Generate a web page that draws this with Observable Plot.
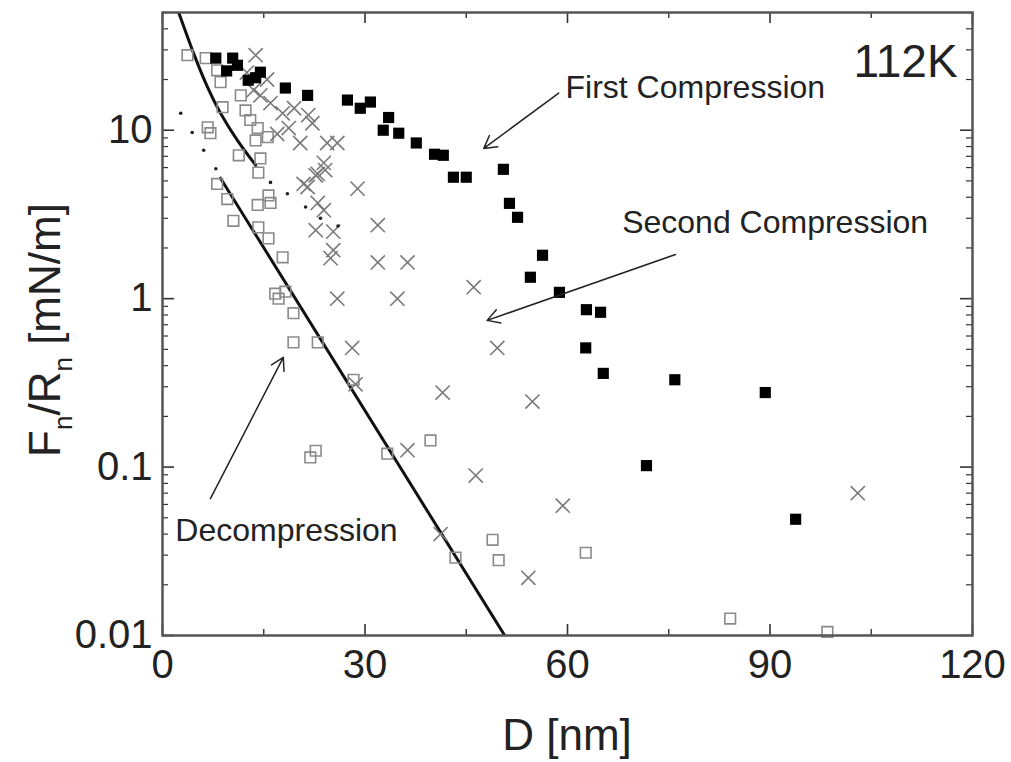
<!DOCTYPE html>
<html>
<head>
<meta charset="utf-8">
<script src="https://cdn.jsdelivr.net/npm/d3@7"></script>
<script src="https://cdn.jsdelivr.net/npm/@observablehq/plot@0.6"></script>
<style>
  html, body { margin: 0; padding: 0; background: #fff; }
</style>
</head>
<body>
<div id="chart"></div>
<script>
// First compression (filled squares)
const firstD = [7.9,10.4,11.1,14.5,12.7,9.5,13.8,18.2,21.5,27.4,29.3,30.8,33.5,32.7,35.0,37.6,40.3,41.6,43.1,45.0,50.5,51.4,52.6,56.3,54.5,58.8,62.8,64.9,62.7,65.3,75.9,89.3,71.7,93.8];
const firstF = [26.8,26.8,24.3,22.1,19.8,22.5,20.5,17.8,16.1,15.1,13.5,14.7,11.9,10,9.6,8.4,7.2,7.1,5.26,5.26,5.86,3.68,3.04,1.81,1.34,1.09,0.86,0.83,0.51,0.36,0.33,0.277,0.102,0.049];
// Second compression (crosses)
const secondD = [13.8,13.5,14.5,16,17.8,18.7,20.4,21.6,22.2,24.4,25.9,23.9,23.0,21.5,28.9,20.9,22.7,24.1,23.0,23.9,22.7,25.3,31.9,25.3,24.9,31.9,36.3,25.9,34.8,46.1,28.1,49.6,28.6,41.5,54.8,36.3,46.4,59.3,41.2,54.2,103,12.5,15.5,19.5,17];
const secondF = [27.9,17.3,16.1,14.5,12.6,10.3,8.4,12.3,11.0,8.4,8.4,6.4,5.5,4.6,4.5,4.8,5.4,5.8,3.7,3.35,2.55,2.5,2.73,1.94,1.74,1.64,1.64,1.0,1.0,1.17,0.51,0.51,0.31,0.277,0.245,0.126,0.089,0.059,0.040,0.022,0.070,22,20,13.5,9.5];
// Decompression (open squares)
const decompD = [3.7,6.4,8.1,8.6,8.9,11.6,12.3,13.0,6.7,7.1,14.1,13.8,15.6,11.3,14.5,14.2,8.1,15.7,9.6,10.5,14.1,16,14.2,15.7,17.8,16.7,17.2,18.2,19.4,19.4,23.0,28.3,21.9,22.7,33.3,39.7,43.4,48.9,49.8,62.7,84.1,98.5];
const decompF = [27.9,26.8,22.7,19.3,13.7,16.1,13.1,11.5,10.4,9.6,10.3,8.7,9.1,7.1,6.8,5.6,4.8,4.1,3.9,2.9,3.6,3.7,2.65,2.28,1.76,1.07,1.0,1.1,0.82,0.55,0.55,0.33,0.114,0.125,0.12,0.144,0.029,0.037,0.028,0.031,0.0126,0.0105];
// small dots
const dotD = [2.7,4.4,6.1,7.9,16,18.5,21.2,23.4,26];
const dotF = [12.6,9.7,7.6,5.9,4.9,4.2,3.5,3.0,2.7];
// fitted curves
const curve1D = [2.4,4.6,6.67,8.6,11.1,13.8];
const curve1F = [50,28.7,18.0,12.6,8.7,6.2];
const curve2D = [8.6,50.7];
const curve2F = [5.19,0.01];
// ticks
const xTicks = [0,30,60,90,120];
const xMinor = [15,45,75,105];
const yTicks = [0.01,0.1,1,10];
const yMinor = [];
[0.01,0.1,1,10].forEach(b => { for (let k = 2; k <= 9; k++) { const v = +(b*k).toPrecision(3); if (v <= 50) yMinor.push(v); } });
// annotations
const labels = [
  {text: "First Compression", x: 59.7, y: 17.8, size: 32},
  {text: "Second Compression", x: 68.1, y: 2.84, size: 32},
  {text: "Decompression", x: 1.9, y: 0.042, size: 32}
];
const arrows = [
  {x1: 58.7, y1: 16.6, x2: 47.6, y2: 7.8},
  {x1: 76, y1: 1.83, x2: 48.1, y2: 0.743},
  {x1: 7.1, y1: 0.065, x2: 17.9, y2: 0.448}
];

const zip = (a, b) => a.map((v, i) => ({x: v, y: b[i]}));
const first = zip(firstD, firstF);
const second = zip(secondD, secondF);
const decomp = zip(decompD, decompF);
const dots = zip(dotD, dotF);
const c1 = zip(curve1D, curve1F);
const c2 = zip(curve2D, curve2F);

const PH = 762 - 12 - 127;
const PW = 1011 - 162 - 39;
const tickColor = "#333";

const svg = Plot.plot({
  width: 1011,
  height: 762,
  marginLeft: 162,
  marginRight: 39,
  marginTop: 12,
  marginBottom: 127,
  style: {fontFamily: "'Liberation Sans', Arial, sans-serif", background: "#fff", color: "#222"},
  x: {domain: [0, 120]},
  y: {type: "log", domain: [0.01, 50]},
  marks: [
    Plot.ruleX(xTicks, {x: d => d, insetTop: PH - 11, stroke: tickColor, strokeWidth: 1.6}),
    Plot.ruleX(xMinor, {x: d => d, insetTop: PH - 6, stroke: tickColor, strokeWidth: 1.4}),
    Plot.ruleX(xTicks, {x: d => d, insetBottom: PH - 11, stroke: tickColor, strokeWidth: 1.6}),
    Plot.ruleX(xMinor, {x: d => d, insetBottom: PH - 6, stroke: tickColor, strokeWidth: 1.4}),
    Plot.ruleY(yTicks, {y: d => d, insetRight: PW - 12, stroke: tickColor, strokeWidth: 1.6}),
    Plot.ruleY(yMinor, {y: d => d, insetRight: PW - 6, stroke: tickColor, strokeWidth: 1.2}),
    Plot.ruleY(yTicks, {y: d => d, insetLeft: PW - 12, stroke: tickColor, strokeWidth: 1.6}),
    Plot.ruleY(yMinor, {y: d => d, insetLeft: PW - 6, stroke: tickColor, strokeWidth: 1.2}),
    Plot.axisX({ticks: xTicks, tickSize: 0, tickPadding: 14, fontSize: 40, label: null, tickFormat: d => String(d)}),
    Plot.axisY({ticks: yTicks, tickSize: 0, tickPadding: 10, fontSize: 40, label: null, tickFormat: d => String(d)}),
    Plot.line(c1, {x: "x", y: "y", curve: "natural", stroke: "#111", strokeWidth: 3, clip: true}),
    Plot.line(c2, {x: "x", y: "y", stroke: "#111", strokeWidth: 3, clip: true}),
    Plot.dot(decomp, {x: "x", y: "y", symbol: "square", r: 6, stroke: "#8a8a8a", strokeWidth: 1.6, fill: "none"}),
    Plot.dot(second, {x: "x", y: "y", symbol: "times", r: 6.5, stroke: "#7a7a7a", strokeWidth: 1.6}),
    Plot.dot(dots, {x: "x", y: "y", r: 1.8, fill: "#222", stroke: "none"}),
    Plot.dot(first, {x: "x", y: "y", symbol: "square", r: 6.3, fill: "#000", stroke: "none"}),
    Plot.arrow(arrows, {x1: "x1", y1: "y1", x2: "x2", y2: "y2", stroke: "#222", strokeWidth: 1.5, headLength: 14}),
    Plot.text(labels, {x: "x", y: "y", text: "text", fontSize: d => d.size, textAnchor: "start", fill: "#222"}),
    Plot.text(["112K"], {x: 117.8, y: 25.3, text: d => d, fontSize: 46, textAnchor: "end", fill: "#222"}),
    Plot.frame({stroke: "#555", strokeWidth: 2.5})
  ]
});

const s = d3.select(svg);
s.append("text")
  .attr("x", 567).attr("y", 750)
  .attr("text-anchor", "middle")
  .attr("font-size", 44)
  .attr("fill", "#222")
  .text("D [nm]");
const yt = s.append("text")
  .attr("transform", "translate(60,330) rotate(-90)")
  .attr("text-anchor", "middle")
  .attr("font-size", 44)
  .attr("fill", "#222");
yt.append("tspan").text("F");
yt.append("tspan").attr("font-size", 26).attr("dy", 12).text("n");
yt.append("tspan").attr("dy", -12).text("/R");
yt.append("tspan").attr("font-size", 26).attr("dy", 12).text("n");
yt.append("tspan").attr("dy", -12).text(" [mN/m]");

document.getElementById("chart").appendChild(svg);
</script>
</body>
</html>
